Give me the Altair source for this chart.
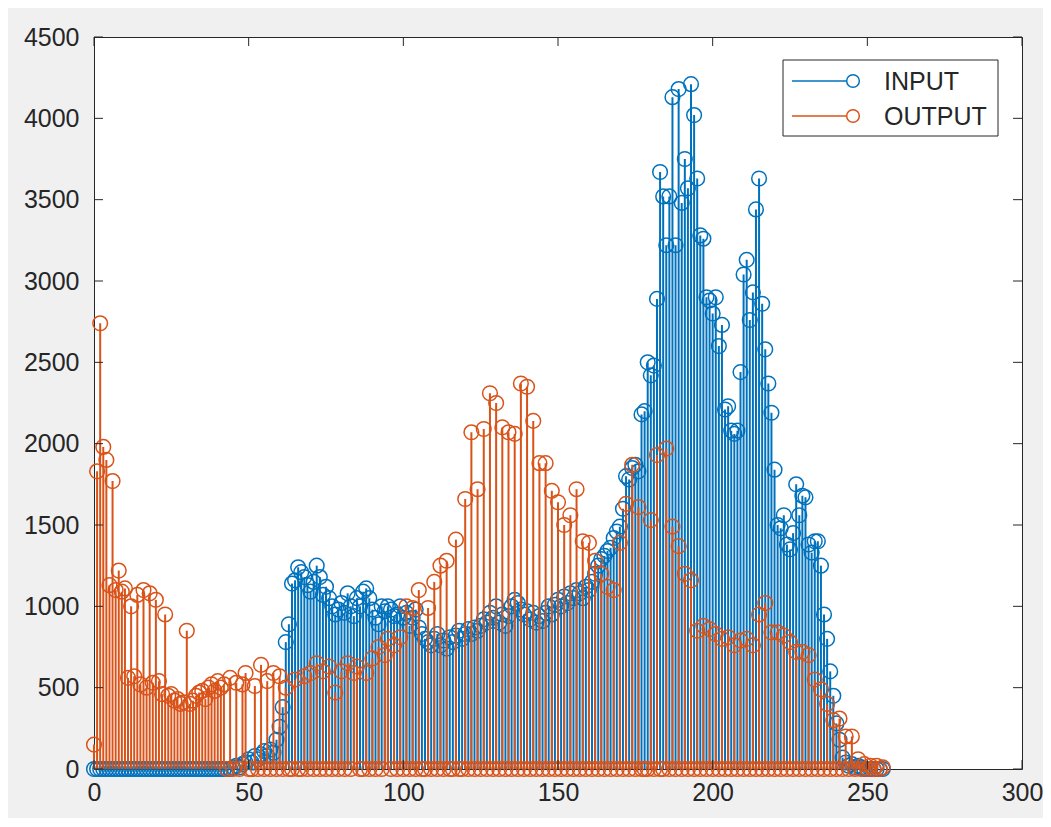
import altair as alt
import pandas as pd

# ---- data ----
levels = list(range(256))

input_counts = [
    0, 0, 0, 0, 0, 0, 0, 0, 0, 0, 0, 0, 0, 0, 0, 0,
    0, 0, 0, 0, 0, 0, 0, 0, 0, 0, 0, 0, 0, 0, 0, 0,
    0, 0, 0, 0, 0, 0, 0, 0, 0, 0, 0, 0, 0, 10, 20, 10,
    30, 40, 60, 40, 80, 60, 90, 110, 80, 120, 100, 180, 260, 380, 780, 890,
    1140, 1160, 1240, 1210, 1180, 1130, 1090, 1150, 1250, 1180, 1070, 1120, 1050, 1000, 950, 980,
    1020, 960, 1080, 1000, 940, 1050, 1000, 1090, 1110, 1050, 980, 930, 890, 1000, 970, 1000,
    980, 940, 950, 1000, 930, 960, 880, 930, 980, 870, 830, 800, 780, 760, 800, 830,
    760, 790, 740, 810, 780, 820, 850, 800, 830, 860, 830, 870, 850, 880, 920, 900,
    960, 930, 1000, 900, 950, 880, 940, 1000, 1040, 1020, 980, 950, 970, 920, 960, 900,
    940, 910, 960, 1000, 950, 1010, 1040, 1000, 1060, 1020, 1080, 1050, 1100, 1080, 1050, 1120,
    1100, 1150, 1200, 1250, 1290, 1310, 1340, 1360, 1420, 1460, 1490, 1600, 1800, 1780, 1850, 1870,
    1830, 2180, 2200, 2500, 2420, 2480, 2890, 3670, 3520, 3220, 3520, 4130, 3220, 4180, 3480, 3750,
    3570, 4210, 4020, 3630, 3280, 3260, 2900, 2880, 2800, 2900, 2600, 2730, 2210, 2230, 2080, 2060,
    2080, 2440, 3040, 3130, 2760, 2930, 3440, 3630, 2860, 2580, 2370, 2190, 1840, 1500, 1480, 1560,
    1380, 1350, 1450, 1750, 1560, 1680, 1670, 1380, 1330, 1400, 1400, 1250, 950, 800, 600, 450,
    280, 180, 70, 40, 20, 30, 10, 20, 10, 0, 0, 0, 0, 0, 0, 0,
]

output_counts = [
    150, 1830, 2740, 1980, 1900, 1130, 1770, 1100, 1220, 1090, 1110, 560, 1000, 570, 1070, 520,
    1100, 500, 1080, 530, 1040, 540, 460, 950, 450, 460, 420, 430, 400, 410, 850, 400,
    420, 450, 470, 480, 430, 500, 520, 480, 540, 500, 520, 0, 560, 0, 530, 0,
    520, 590, 0, 0, 510, 0, 640, 0, 540, 0, 590, 0, 570, 0, 500, 0,
    0, 550, 0, 0, 570, 0, 590, 0, 650, 0, 600, 0, 630, 0, 470, 0,
    600, 0, 650, 0, 590, 630, 0, 0, 590, 0, 680, 0, 750, 0, 700, 800,
    0, 760, 0, 810, 0, 1000, 0, 990, 0, 1100, 0, 0, 990, 0, 1150, 0,
    1250, 0, 1280, 0, 0, 1410, 0, 0, 1660, 0, 2070, 0, 1720, 0, 2090, 0,
    2310, 0, 2250, 0, 2100, 0, 2070, 0, 2060, 0, 2370, 0, 2350, 0, 2140, 0,
    1880, 0, 1880, 0, 1710, 0, 1640, 0, 1500, 0, 1560, 0, 1720, 0, 1400, 0,
    1390, 0, 1280, 0, 1200, 0, 1120, 0, 1100, 0, 1390, 0, 1630, 0, 1870, 0,
    1610, 0, 0, 0, 1530, 0, 1930, 0, 0, 1970, 0, 1490, 0, 1370, 0, 1200,
    0, 1160, 0, 850, 0, 880, 0, 860, 0, 830, 0, 800, 0, 810, 0, 760,
    0, 790, 0, 800, 0, 760, 0, 950, 0, 1020, 0, 840, 0, 840, 0, 820,
    0, 780, 0, 720, 0, 720, 0, 700, 0, 550, 0, 490, 0, 400, 0, 300,
    0, 310, 0, 200, 0, 200, 0, 60, 0, 30, 0, 20, 0, 20, 0, 10,
]

series_names = ["INPUT", "OUTPUT"]
series_colors = ["#0072BD", "#D95319"]
x_tick_values = [0, 50, 100, 150, 200, 250, 300]
y_tick_values = [0, 500, 1000, 1500, 2000, 2500, 3000, 3500, 4000, 4500]

assert len(input_counts) == 256 and len(output_counts) == 256

# ---- layout / style ----
W, H = 928, 732
FONT = "Liberation Sans"
TXT = "#262626"
FS = 25
TICK = 9

x_scale = alt.Scale(domain=[0, 300], nice=False, zero=False)
y_scale = alt.Scale(domain=[0, 4500], nice=False, zero=False)
x_axis = alt.Axis(values=x_tick_values, ticks=False, domain=False, grid=False, title=None,
                  labelFontSize=FS, labelFont=FONT, labelColor=TXT, labelPadding=11,
                  labelFlush=False, labelOverlap=False)
y_axis = alt.Axis(values=y_tick_values, ticks=False, domain=False, grid=False, title=None,
                  labelFontSize=FS, labelFont=FONT, labelColor=TXT, labelPadding=15,
                  labelFlush=False, labelOverlap=False, format="d")

X = alt.X("level:Q", scale=x_scale, axis=x_axis)
Y = alt.Y("count:Q", scale=y_scale, axis=y_axis)

layers = []
for name, color, vals in zip(series_names, series_colors, [input_counts, output_counts]):
    d = pd.DataFrame({"level": levels, "count": vals, "base": [0] * len(levels)})
    stems = alt.Chart(d).transform_filter(alt.datum["count"] > 0).mark_rule(
        color=color, strokeWidth=2
    ).encode(x=X, y=Y, y2="base:Q")
    marks = alt.Chart(d).mark_point(
        shape="circle", filled=False, size=215, strokeWidth=1.5, color=color, opacity=1, clip=False
    ).encode(x=X, y=Y)
    layers += [stems, marks]

# inward ticks on all four sides (MATLAB box style)
xt = pd.DataFrame({"level": x_tick_values})
yt = pd.DataFrame({"count": y_tick_values})
tick_style = dict(color=TXT, strokeWidth=1)
layers.append(alt.Chart(xt).mark_rule(**tick_style).encode(x=X, y=alt.value(H), y2=alt.value(H - TICK)))
layers.append(alt.Chart(xt).mark_rule(**tick_style).encode(x=X, y=alt.value(0), y2=alt.value(TICK)))
layers.append(alt.Chart(yt).mark_rule(**tick_style).encode(y=Y, x=alt.value(0), x2=alt.value(TICK)))
layers.append(alt.Chart(yt).mark_rule(**tick_style).encode(y=Y, x=alt.value(W), x2=alt.value(W - TICK)))

# legend box (manual, MATLAB style)
LX0, LX1, LY0, LY1 = 689, 904, 23, 99
box = alt.Chart(pd.DataFrame({"series": ["legend"]})).mark_rect(
    fill="white", stroke=TXT, strokeWidth=1
).encode(x=alt.value(LX0), x2=alt.value(LX1), y=alt.value(LY0), y2=alt.value(LY1))
layers.append(box)
row_y = [44, 79]
for name, color, ry in zip(series_names, series_colors, row_y):
    ld = pd.DataFrame({"series": [name]})
    layers.append(alt.Chart(ld).mark_rule(color=color, strokeWidth=1.5).encode(
        x=alt.value(698), x2=alt.value(752), y=alt.value(ry)))
    layers.append(alt.Chart(ld).mark_point(shape="circle", filled=False, size=160, strokeWidth=1.5,
                                           color=color, opacity=1).encode(
        x=alt.value(759), y=alt.value(ry)))
    layers.append(alt.Chart(ld).mark_text(align="left", baseline="middle", font=FONT,
                                          fontSize=FS, color=TXT).encode(
        x=alt.value(790), y=alt.value(ry + 1), text="series:N"))

chart = alt.layer(*layers).properties(
    width=W, height=H,
    autosize=alt.AutoSizeParams(type="none"),
    padding={"left": 86, "top": 29, "right": 21, "bottom": 49},
    background="#f0f0f0",
).configure_view(fill="white", stroke=TXT, strokeWidth=1)

chart.save("out.html", embed_options={"renderer": "svg", "actions": False})
